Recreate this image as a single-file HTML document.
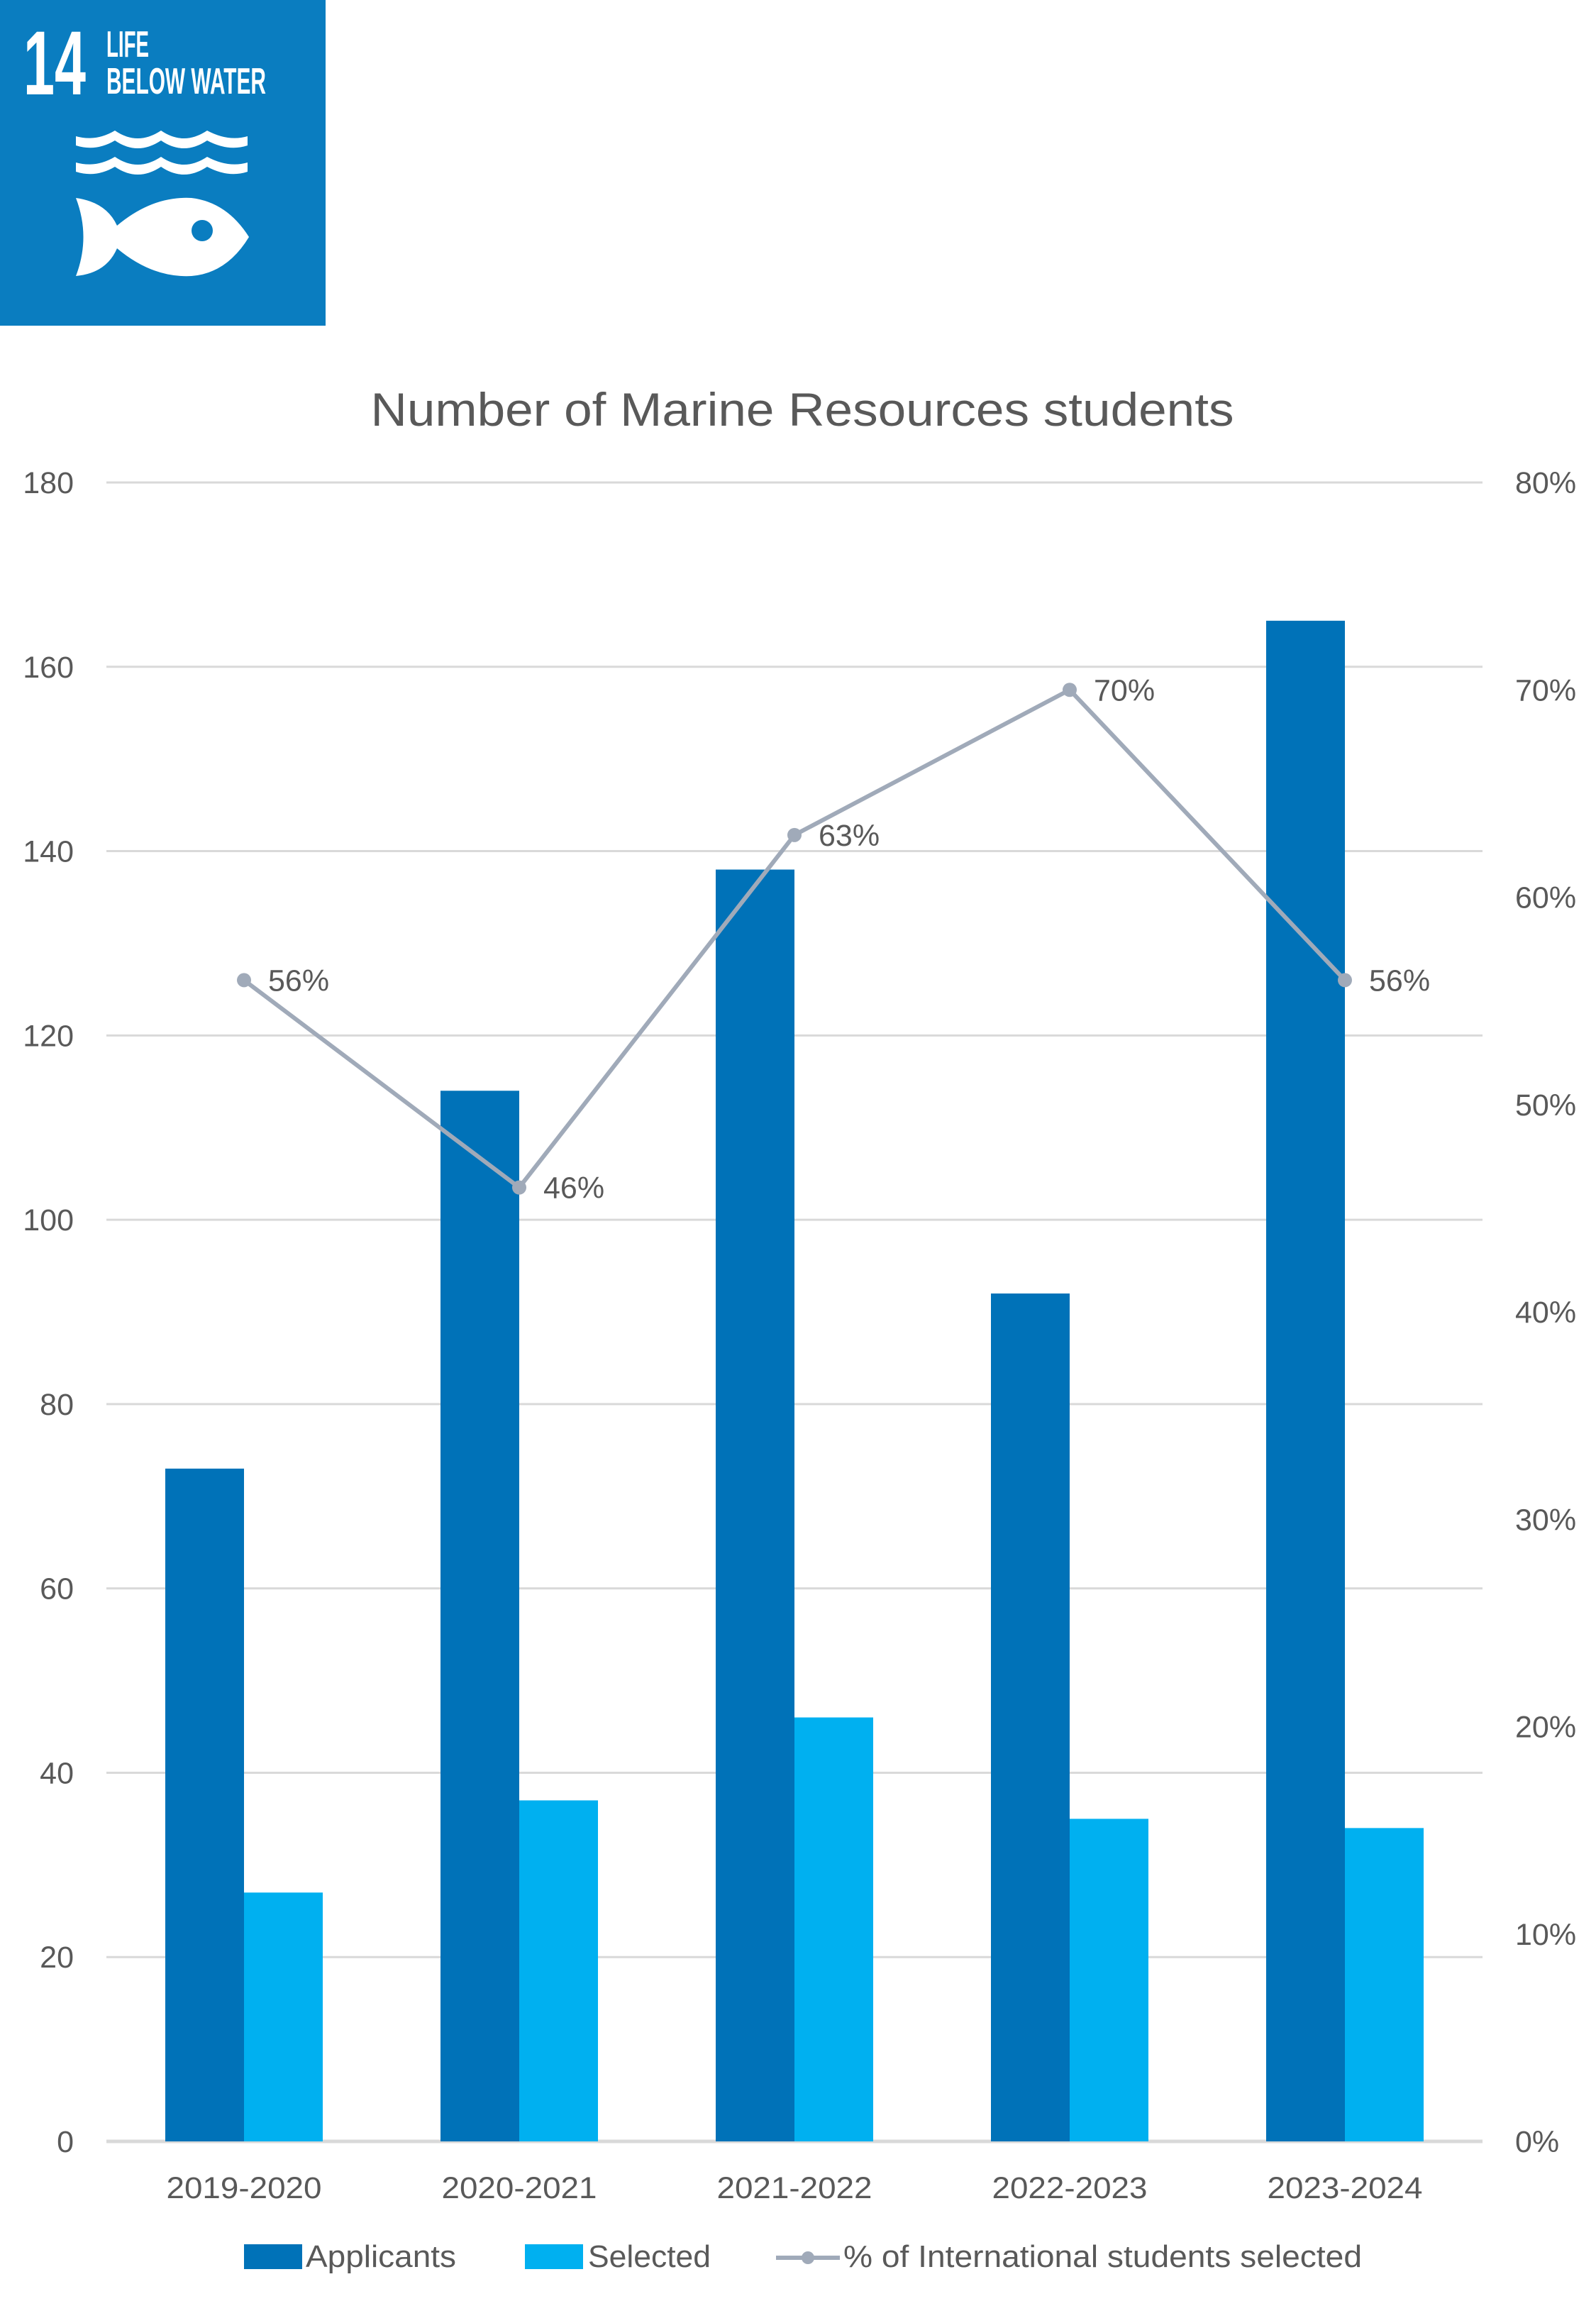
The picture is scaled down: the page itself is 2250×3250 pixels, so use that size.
<!DOCTYPE html>
<html><head><meta charset="utf-8">
<style>
html,body{margin:0;padding:0;background:#fff;}
svg{display:block;}
text{font-family:"Liberation Sans",sans-serif;}
</style></head>
<body>
<svg id="chart" width="2250" height="3250" viewBox="0 0 2250 3250" xmlns="http://www.w3.org/2000/svg">
  <g>
    <rect x="0" y="0" width="459" height="459" fill="#0A7DC0"/>
    <text x="33" y="133" font-size="128" font-weight="bold" fill="#fff" textLength="88" lengthAdjust="spacingAndGlyphs">14</text>
    <text x="150" y="80" font-size="52" font-weight="bold" fill="#fff" textLength="60" lengthAdjust="spacingAndGlyphs">LIFE</text>
    <text x="150" y="132" font-size="52" font-weight="bold" fill="#fff" textLength="225" lengthAdjust="spacingAndGlyphs">BELOW WATER</text>
    <g fill="#fff">
      <path d="M107,192 Q135,200 162,184 Q194,206 227,184 Q259,206 292,184 Q322,200 349,192 L349,205 Q322,214 292,198 Q259,220 227,198 Q194,220 162,198 Q135,214 107,205 Z"/>
      <path d="M107,229 Q135,237 162,221 Q194,243 227,221 Q259,243 292,221 Q322,237 349,229 L349,242 Q322,251 292,235 Q259,257 227,235 Q194,257 162,235 Q135,251 107,242 Z"/>
    </g>
    <g>
      <path d="M107,279 Q150,285 165,318 Q215,276 270,279 Q320,285 351,334 Q320,385 270,389 Q215,392 165,350 Q150,385 107,389 Q128,334 107,279 Z" fill="#fff"/>
      <circle cx="285" cy="325" r="15" fill="#0A7DC0"/>
    </g>
  </g>
  <text x="1131" y="600" font-size="66" fill="#595959" text-anchor="middle" textLength="1217" lengthAdjust="spacingAndGlyphs">Number of Marine Resources students</text>
  <g id="grid"></g>
  <g id="bars"></g>
  <g id="line"></g>
  <g id="xlabels"></g>
  <g>
    <g>
      <rect x="344" y="3163" width="82" height="35" fill="#0072B8"/>
      <text x="431" y="3195" font-size="44" fill="#595959" textLength="212" lengthAdjust="spacingAndGlyphs">Applicants</text>
    </g>
    <g>
      <rect x="740" y="3163" width="82" height="35" fill="#00B0F0"/>
      <text x="829" y="3195" font-size="44" fill="#595959" textLength="173" lengthAdjust="spacingAndGlyphs">Selected</text>
    </g>
    <g>
      <line x1="1094" y1="3182" x2="1184" y2="3182" stroke="#A0AAB9" stroke-width="6"/>
      <circle cx="1139" cy="3182" r="9" fill="#A0AAB9"/>
      <text x="1189" y="3195" font-size="44" fill="#595959" textLength="731" lengthAdjust="spacingAndGlyphs">% of International students selected</text>
    </g>
  </g>
</svg>
<script>
const categories = ["2019-2020","2020-2021","2021-2022","2022-2023","2023-2024"];
const applicants = [73,114,138,92,165];
const selected = [27,37,46,35,34];
const pctIntl = [56,46,63,70,56];
const leftTicks = [0,20,40,60,80,100,120,140,160,180];
const rightTicks = [0,10,20,30,40,50,60,70,80];

const NS = "http://www.w3.org/2000/svg";
const X0 = 150, X1 = 2090, Y0 = 3018, Y1 = 680;
const band = (X1 - X0) / categories.length;
const barW = 111;
function yL(v){ return Y0 - (v / 180) * (Y0 - Y1); }
function yR(v){ return Y0 - (v / 80) * (Y0 - Y1); }
function xC(i){ return X0 + band * (i + 0.5); }
function mk(tag, attrs, parent){
  const e = document.createElementNS(NS, tag);
  for (const k in attrs) e.setAttribute(k, attrs[k]);
  parent.appendChild(e);
  return e;
}
const grid = document.getElementById('grid');
leftTicks.forEach(v => {
  const l = mk('line', {x1:X0, x2:X1, y1:yL(v), y2:yL(v), stroke:'#D9D9D9', 'stroke-width': v===0?5:3}, grid);
  
  
  const t = mk('text', {x:104, y:yL(v)+15, 'font-size':43, fill:'#595959', 'text-anchor':'end'}, grid);
  t.textContent = v;
  
  
});
rightTicks.forEach(v => {
  const t = mk('text', {x:2136, y:yR(v)+15, 'font-size':43, fill:'#595959'}, grid);
  t.textContent = v + '%';
  
  
});
const bars = document.getElementById('bars');
categories.forEach((c, i) => {
  const a = mk('rect', {x:xC(i)-barW, y:yL(applicants[i]), width:barW, height:Y0-yL(applicants[i]), fill:'#0072B8'}, bars);
  
  
  const s = mk('rect', {x:xC(i), y:yL(selected[i]), width:barW, height:Y0-yL(selected[i]), fill:'#00B0F0'}, bars);
  
  
});
const lineG = document.getElementById('line');
const pts = pctIntl.map((v, i) => xC(i) + ',' + yR(v)).join(' ');
const pl = mk('polyline', {points:pts, fill:'none', stroke:'#A0AAB9', 'stroke-width':6, 'stroke-linejoin':'round'}, lineG);


pctIntl.forEach((v, i) => {
  const c = mk('circle', {cx:xC(i), cy:yR(v), r:10, fill:'#A0AAB9'}, lineG);
  
  
  const t = mk('text', {x:xC(i)+34, y:yR(v)+15, 'font-size':43, fill:'#595959'}, lineG);
  t.textContent = v + '%';
  
  
});
const xl = document.getElementById('xlabels');
categories.forEach((c, i) => {
  const t = mk('text', {x:xC(i), y:3098, 'font-size':43, fill:'#595959', 'text-anchor':'middle', textLength:219, lengthAdjust:'spacingAndGlyphs'}, xl);
  t.textContent = c;
  
  
});
</script>
</body></html>
